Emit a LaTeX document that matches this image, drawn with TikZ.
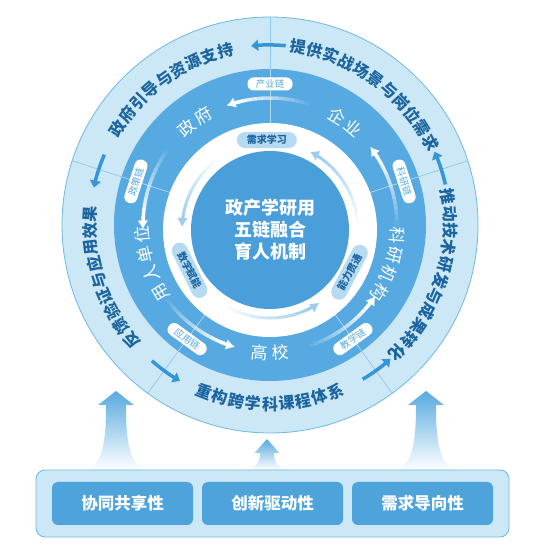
\documentclass[tikz,border=0pt]{standalone}
\usepackage{fontspec}
\setmainfont{Noto Sans CJK SC}
\usetikzlibrary{arrows.meta,calc}
\definecolor{ringpale}{HTML}{CCE7F6}
\definecolor{ringmid}{HTML}{57AAE1}
\definecolor{corebl}{HTML}{4A9EDA}
\definecolor{pillbl}{HTML}{B6DAF2}
\definecolor{pillarc}{HTML}{9CCDEE}
\definecolor{textdk}{HTML}{1A64A0}
\definecolor{arrowbl}{HTML}{3496D6}
\definecolor{edgebl}{HTML}{6DB8E6}
\definecolor{divbl}{HTML}{8EC8EC}
\definecolor{boxbl}{HTML}{4DA3DA}
\tikzset{
  outertext/.style={font=\fontsize{16}{16}\selectfont\bfseries, text=textdk, inner sep=0pt},
  nodetext/.style={font=\fontsize{17}{17}\selectfont, text=white, inner sep=0pt},
  coretext/.style={font=\fontsize{18}{22}\selectfont\bfseries, text=white, align=center},
  chainpill/.style={fill=white, text=ringmid, rounded corners=6pt, minimum width=45pt,
    minimum height=13pt, inner sep=0pt, font=\fontsize{9.5}{9.5}\selectfont},
  learnpill/.style={fill=pillbl, text=textdk, rounded corners=8pt, minimum width=60pt,
    minimum height=16pt, inner sep=0pt, font=\fontsize{10}{10}\selectfont\bfseries},
  outerarrow/.style={arrowbl, line width=3.5pt, -{Triangle[length=7pt,width=11pt]}},
  basebox/.style={draw=edgebl, fill=ringpale, line width=0.8pt, rounded corners=9pt},
  featbox/.style={fill=boxbl, text=white, rounded corners=6pt, minimum width=141pt,
    minimum height=43pt, font=\fontsize{16.5}{16.5}\selectfont\bfseries},
}
% characters set one by one along a circle round (O)
\newcommand{\ringtext}[7]{% name, first angle, step, radius, turn, style, chars
  \foreach \ch [count=\k] in {#7}{
    \pgfmathsetmacro{\tang}{#2+(\k-1)*(#3)}
    \pgfmathsetmacro{\trot}{\tang+(#5)}
    \node[#6, rotate=\trot] (#1-\k) at ($(O)+(\tang:#4)$) {\ch};
  }}
% arc that fades in towards its head (counter-clockwise)
\newcommand{\fadearc}[6]{% centre, radius, from, to, colour, width
  \pgfmathsetmacro{\fend}{(#4)-5}
  \foreach \s in {1,...,14}{
    \pgfmathsetmacro{\fa}{(#3)+(\s-1)*(\fend-(#3))/14}
    \pgfmathsetmacro{\fb}{(#3)+\s*(\fend-(#3))/14}
    \pgfmathsetmacro{\fop}{\s/14}
    \draw[draw=#5, draw opacity=\fop, line width=#6] (#1) ++(\fa:#2)
      arc[start angle=\fa, end angle=\fb, radius=#2];
  }
  \pgfmathsetmacro{\fa}{(#4)-6}
  \pgfmathsetmacro{\fb}{#4}
  \draw[draw=#5, fill=#5, line width=#6, -{Latex[length=9pt,width=11pt]}] (#1) ++(\fa:#2)
    arc[start angle=\fa, end angle=\fb, radius=#2];
}
% upward flow arrow from the base box
\newcommand{\upflow}[5]{% x, tip y, head half width, shaft half width, flare half width
  \pgfmathsetmacro{\hb}{#2-14}
  \pgfmathsetmacro{\cy}{83+0.45*(\hb-83)}
  \shade[top color=ringmid, bottom color=white]
    (#1,#2) -- (#1+#3,\hb) -- (#1+#4,\hb) .. controls (#1+#4,\cy) and (#1+#4+3,86) .. (#1+#5,83)
    -- (#1-#5,83) .. controls (#1-#4-3,86) and (#1-#4,\cy) .. (#1-#4,\hb) -- (#1-#3,\hb) -- cycle;
}
\begin{document}
\begin{tikzpicture}[x=1pt, y=1pt]
\useasboundingbox (0,0) rectangle (553,553);
\coordinate (O) at (270,328);
\coordinate (I) at (270,323);

%% rings
\draw[edgebl, line width=0.8pt, fill=ringpale] (O) circle[radius=208];
\fill[ringmid] (O) circle[radius=156];
\foreach \a in {18,90,162,234,306}{
  \draw[white, opacity=0.55, line width=0.7pt] (O) ++(\a:100) -- ++(\a:56);
  \draw[divbl, line width=0.7pt] (O) ++(\a:156) -- ++(\a:52);
}
\fill[white] (I) circle[radius=107];
\fill[corebl] (I) circle[radius=79];
\node[coretext] (core) at (I) {政产学研用\\五链融合\\育人机制};

%% inner loop
\fadearc{I}{88}{128}{178}{pillarc}{3pt}
\fadearc{I}{88}{240}{304}{pillarc}{3pt}
\fadearc{I}{88}{5}{63}{pillarc}{3pt}
\node[learnpill] (xq) at ($(I)+(92:90)$) {需求学习};
\node[learnpill, rotate=296.6] (sz) at ($(I)+(206.6:90)$) {数字赋能};
\node[learnpill, rotate=62] (nl) at ($(I)+(-28:90)$) {能力贯通};

%% five chains
\foreach \a in {54,126,198,270,342}{
  \fadearc{O}{127}{\a+18}{\a+56}{white}{3.5pt}
}
\node[chainpill] (cy) at ($(O)+(90:141)$) {产业链};
\node[chainpill, rotate=-72] (ky) at ($(O)+(18:141)$) {科研链};
\node[chainpill, rotate=72] (zc) at ($(O)+(162:141)$) {政策链};
\node[chainpill, rotate=-36] (yy) at ($(O)+(234:141)$) {应用链};
\node[chainpill, rotate=36] (jx) at ($(O)+(306:141)$) {教学链};

\ringtext{zf}{130.5}{-9}{128}{-90}{nodetext}{政,府}
\ringtext{qy}{58.5}{-9}{128}{-90}{nodetext}{企,业}
\ringtext{ky}{-4.5}{-9}{128}{-90}{nodetext}{科,研,机,构}
\ringtext{yr}{211.5}{-9}{128}{-90}{nodetext}{用,人,单,位}
\ringtext{gx}{265.5}{9}{128}{90}{nodetext}{高,校}

%% outer ring
\foreach \a in {18,90,162,234,306}{
  \draw[outerarrow] (O) ++(\a-5:180) arc[start angle=\a-5, end angle=\a+6, radius=180];
}
\ringtext{o1}{81}{-5.4}{180}{-90}{outertext}{提,供,实,战,场,景,与,岗,位,需,求}
\ringtext{o2}{147.6}{-5.4}{180}{-90}{outertext}{政,府,引,导,与,资,源,支,持}
\ringtext{o3}{219.6}{-5.4}{180}{-90}{outertext}{反,馈,验,证,与,应,用,效,果}
\ringtext{o4}{9}{-5.4}{180}{-90}{outertext}{推,动,技,术,研,发,与,成,果,转,化}
\ringtext{o5}{248.4}{5.4}{179}{90}{outertext}{重,构,跨,学,科,课,程,体,系}

%% base
\upflow{116}{162}{18}{10}{32}
\upflow{267}{114}{12.5}{7}{21}
\upflow{426}{162}{18}{10}{32}
\node[basebox, minimum width=473pt, minimum height=67pt] (base) at (272.5,49.5) {};
\node[featbox] (xt) at (122.5,49.5) {协同共享性};
\node[featbox] (cx) at (272.5,49.5) {创新驱动性};
\node[featbox] (xq) at (422.5,49.5) {需求导向性};
\end{tikzpicture}
\end{document}
